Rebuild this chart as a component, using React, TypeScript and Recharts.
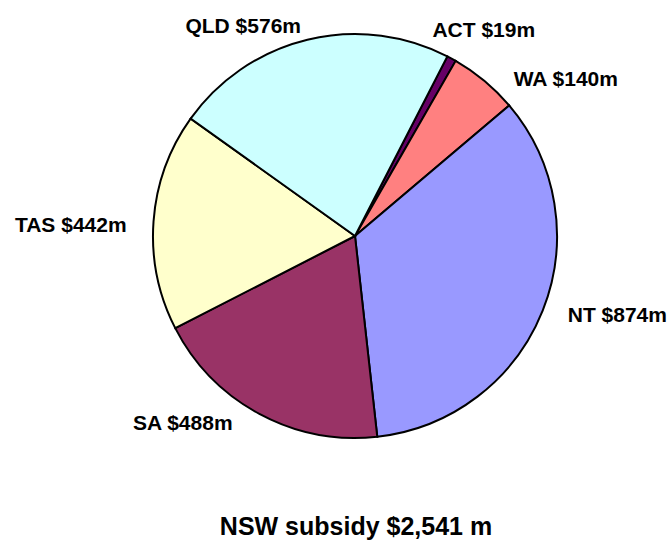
import { Cell, Pie, PieChart } from "recharts"

const STATES = ["ACT", "WA", "NT", "SA", "TAS", "QLD"]
const SUBSIDY = [19, 140, 874, 488, 442, 576]
const TITLE = "NSW subsidy $2,541 m"

const COLORS = ["#660066", "#FF8080", "#9999FF", "#993366", "#FFFFCC", "#CCFFFF"]

// hand nudges so labels sit where the original (Excel) put them
const LABEL_NUDGE: [number, number][] = [
  [-32, -5],
  [12, 18],
  [0, -6],
  [-14, -15],
  [0, 5],
  [0, 12],
]

const data = STATES.map((name, i) => ({ name, value: SUBSIDY[i] }))

const FONT = "'Liberation Sans', Arial, sans-serif"
const RAD = Math.PI / 180

function renderLabel(props: any) {
  const { cx, cy, midAngle, outerRadius, index, name, value } = props
  const dx = Math.cos(-midAngle * RAD)
  const dy = Math.sin(-midAngle * RAD)
  const r = outerRadius + 27
  const [nx, ny] = LABEL_NUDGE[index] ?? [0, 0]
  const x = cx + r * dx + nx
  const y = cy + r * dy + ny + 7.5
  return (
    <text
      x={x}
      y={y}
      textAnchor={dx >= 0 ? "start" : "end"}
      fontFamily={FONT}
      fontWeight="bold"
      fontSize={21}
      fill="#000"
    >
      {`${name} $${value}m`}
    </text>
  )
}

export default function App() {
  return (
    <div style={{ position: "absolute", left: 0, top: 0, width: 672, height: 541, background: "#fff" }}>
      <PieChart width={672} height={541} margin={{ top: 0, right: 0, bottom: 0, left: 0 }}>
        <Pie
          data={data}
          dataKey="value"
          nameKey="name"
          cx={355}
          cy={236}
          outerRadius={202}
          startAngle={62.8}
          endAngle={-297.2}
          stroke="#000"
          strokeWidth={2}
          label={renderLabel}
          labelLine={false}
          isAnimationActive={false}
        >
          {data.map((d, i) => (
            <Cell key={d.name} fill={COLORS[i]} />
          ))}
        </Pie>
      </PieChart>
      <svg width={672} height={541} style={{ position: "absolute", left: 0, top: 0, pointerEvents: "none" }}>
        <text x={356} y={535} textAnchor="middle" fontFamily={FONT} fontWeight="bold" fontSize={25} fill="#000">
          {TITLE}
        </text>
      </svg>
    </div>
  )
}
